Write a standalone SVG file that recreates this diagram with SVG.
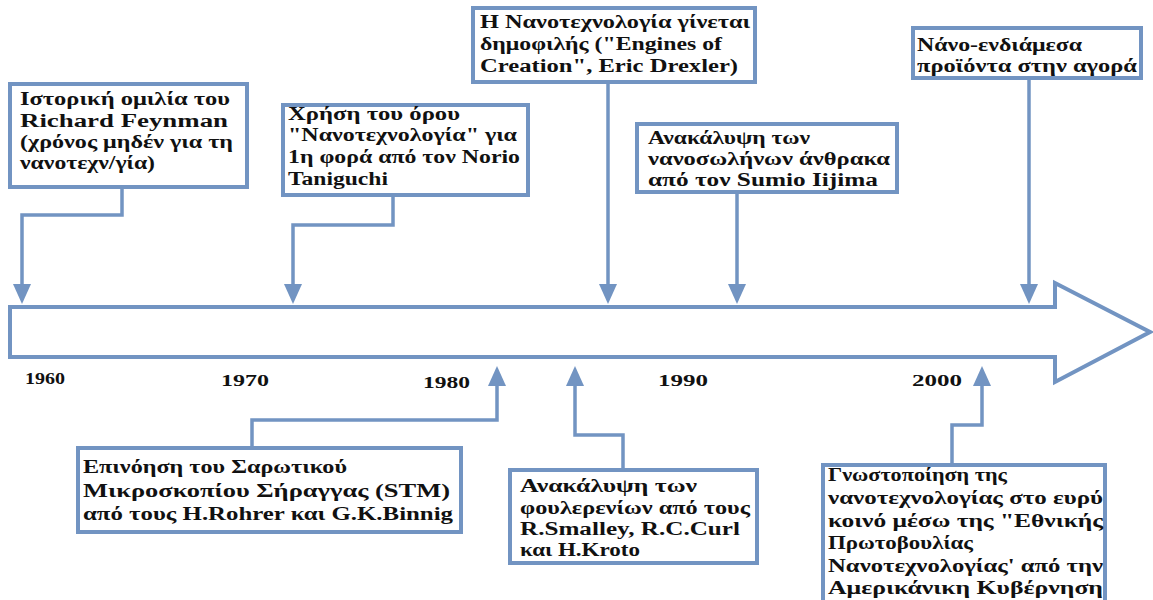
<svg xmlns="http://www.w3.org/2000/svg" width="1153" height="600" viewBox="0 0 1153 600">
<defs>
<style>
.box{fill:#fff;stroke:#7294c2;stroke-width:4}
.ln{fill:none;stroke:#7294c2;stroke-width:3.5}
.hd{fill:#7294c2;stroke:none}
.t{font-weight:bold;font-size:18px;fill:#111}
.y{font-weight:bold;font-size:17px;fill:#111}
</style>
</defs>
<rect width="1153" height="600" fill="#fff"/>
<g font-family="Liberation Serif, Times New Roman, DejaVu Serif, serif">
<g id="timeline">
<polygon points="10,307 1055,307 1055,283 1150,332 1055,382 1055,357 10,357" fill="#fff" stroke="#7294c2" stroke-width="4"/>
<text class="y" x="25" y="384" textLength="40" lengthAdjust="spacingAndGlyphs">1960</text>
<text class="y" x="221" y="386" textLength="48" lengthAdjust="spacingAndGlyphs">1970</text>
<text class="y" x="423" y="388" textLength="47" lengthAdjust="spacingAndGlyphs">1980</text>
<text class="y" x="658" y="386" textLength="50" lengthAdjust="spacingAndGlyphs">1990</text>
<text class="y" x="912" y="386" textLength="50" lengthAdjust="spacingAndGlyphs">2000</text>
</g>
<g id="connectors">
<polyline class="ln" points="122,187 122,215 22,215 22,288"/>
<polygon class="hd" points="13,284 31,284 22,304"/>
<polyline class="ln" points="393,195 393,225 293,225 293,288"/>
<polygon class="hd" points="284,284 302,284 293,304"/>
<polyline class="ln" points="608,82 608,288"/>
<polygon class="hd" points="599,284 617,284 608,304"/>
<polyline class="ln" points="737,192 737,288"/>
<polygon class="hd" points="728,284 746,284 737,304"/>
<polyline class="ln" points="1029,78 1029,288"/>
<polygon class="hd" points="1020,284 1038,284 1029,304"/>
<polyline class="ln" points="497,382 497,420 252,420 252,448"/>
<polygon class="hd" points="488,386 506,386 497,366"/>
<polyline class="ln" points="575,382 575,435 623,435 623,470"/>
<polygon class="hd" points="566,386 584,386 575,366"/>
<polyline class="ln" points="982,382 982,425 952,425 952,465"/>
<polygon class="hd" points="973,386 991,386 982,366"/>
</g>
<g id="n1960">
<rect class="box" x="10" y="84" width="237" height="103"/>
<text class="t" x="20" y="105" textLength="210" lengthAdjust="spacingAndGlyphs">Ιστορική ομιλία του</text>
<text class="t" x="20" y="127" textLength="208" lengthAdjust="spacingAndGlyphs">Richard Feynman</text>
<text class="t" x="20" y="148" textLength="213" lengthAdjust="spacingAndGlyphs">(χρόνος μηδέν για τη</text>
<text class="t" x="20" y="169" textLength="135" lengthAdjust="spacingAndGlyphs">νανοτεχν/γία)</text>
</g>
<g id="n1974">
<rect class="box" x="283" y="105" width="245" height="90"/>
<text class="t" x="288" y="120" textLength="172" lengthAdjust="spacingAndGlyphs">Χρήση του όρου</text>
<text class="t" x="288" y="141" textLength="229" lengthAdjust="spacingAndGlyphs">"Νανοτεχνολογία" για</text>
<text class="t" x="288" y="163" textLength="232" lengthAdjust="spacingAndGlyphs">1η φορά από τον Norio</text>
<text class="t" x="288" y="185" textLength="100" lengthAdjust="spacingAndGlyphs">Taniguchi</text>
</g>
<g id="n1986">
<rect class="box" x="473" y="8" width="282" height="74"/>
<text class="t" x="480" y="28" textLength="270" lengthAdjust="spacingAndGlyphs">Η Νανοτεχνολογία γίνεται</text>
<text class="t" x="480" y="50" textLength="242" lengthAdjust="spacingAndGlyphs">δημοφιλής ("Engines of</text>
<text class="t" x="480" y="72" textLength="258" lengthAdjust="spacingAndGlyphs">Creation", Eric Drexler)</text>
</g>
<g id="n1991">
<rect class="box" x="637" y="124" width="260" height="68"/>
<text class="t" x="648" y="144" textLength="162" lengthAdjust="spacingAndGlyphs">Ανακάλυψη των</text>
<text class="t" x="648" y="165" textLength="242" lengthAdjust="spacingAndGlyphs">νανοσωλήνων άνθρακα</text>
<text class="t" x="648" y="186" textLength="230" lengthAdjust="spacingAndGlyphs">από τον Sumio Iijima</text>
</g>
<g id="n2004">
<rect class="box" x="913" y="28" width="228" height="50"/>
<text class="t" x="917" y="51" textLength="165" lengthAdjust="spacingAndGlyphs">Νάνο-ενδιάμεσα</text>
<text class="t" x="917" y="72" textLength="220" lengthAdjust="spacingAndGlyphs">προϊόντα στην αγορά</text>
</g>
<g id="n1981">
<rect class="box" x="78" y="448" width="383" height="84"/>
<text class="t" x="83" y="473" textLength="264" lengthAdjust="spacingAndGlyphs">Επινόηση του Σαρωτικού</text>
<text class="t" x="83" y="497" textLength="367" lengthAdjust="spacingAndGlyphs">Μικροσκοπίου Σήραγγας (STM)</text>
<text class="t" x="83" y="520" textLength="370" lengthAdjust="spacingAndGlyphs">από τους H.Rohrer και G.K.Binnig</text>
</g>
<g id="n1985">
<rect class="box" x="510" y="470" width="247" height="93"/>
<text class="t" x="520" y="492" textLength="177" lengthAdjust="spacingAndGlyphs">Ανακάλυψη των</text>
<text class="t" x="520" y="514" textLength="230" lengthAdjust="spacingAndGlyphs">φουλερενίων από τους</text>
<text class="t" x="520" y="535" textLength="220" lengthAdjust="spacingAndGlyphs">R.Smalley, R.C.Curl</text>
<text class="t" x="520" y="556" textLength="120" lengthAdjust="spacingAndGlyphs">και H.Kroto</text>
</g>
<g id="n2000">
<rect class="box" x="823" y="465" width="282" height="145"/>
<text class="t" x="828" y="481" textLength="179" lengthAdjust="spacingAndGlyphs">Γνωστοποίηση της</text>
<text class="t" x="828" y="504" textLength="275" lengthAdjust="spacingAndGlyphs">νανοτεχνολογίας στο ευρύ</text>
<text class="t" x="828" y="527" textLength="275" lengthAdjust="spacingAndGlyphs">κοινό μέσω της "Εθνικής</text>
<text class="t" x="828" y="549" textLength="145" lengthAdjust="spacingAndGlyphs">Πρωτοβουλίας</text>
<text class="t" x="828" y="572" textLength="275" lengthAdjust="spacingAndGlyphs">Νανοτεχνολογίας' από την</text>
<text class="t" x="828" y="594" textLength="275" lengthAdjust="spacingAndGlyphs">Αμερικάνικη Κυβέρνηση</text>
</g>
</g>
</svg>
